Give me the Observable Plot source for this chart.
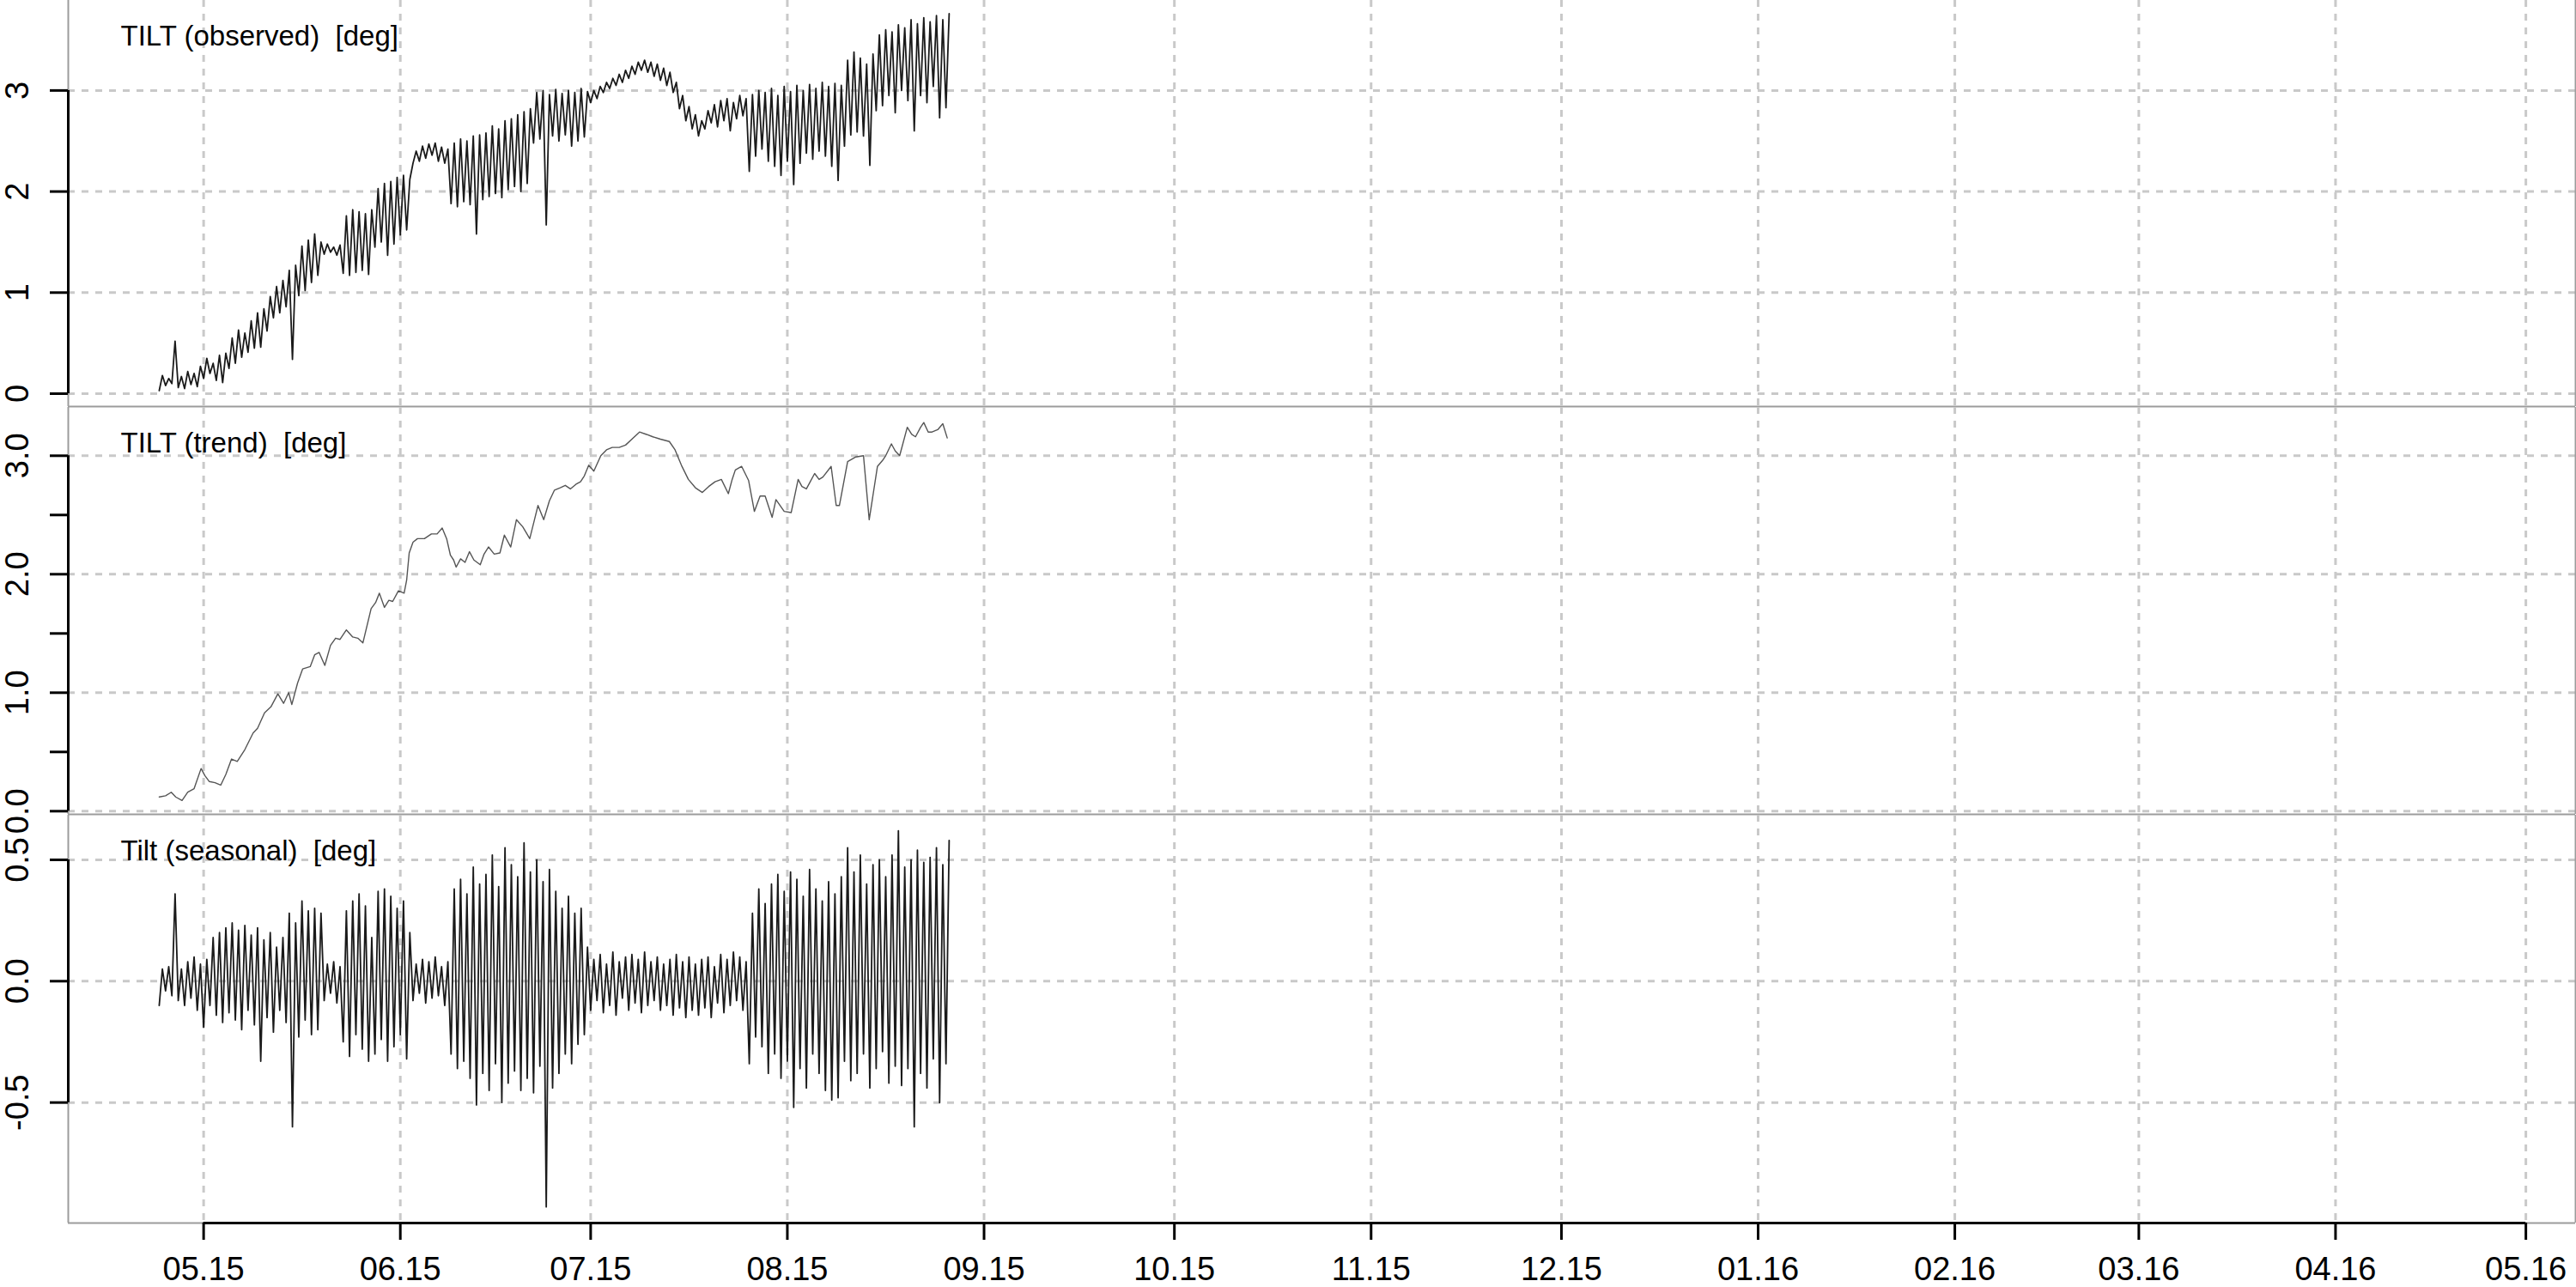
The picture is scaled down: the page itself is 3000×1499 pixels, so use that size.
<!DOCTYPE html>
<html><head><meta charset="utf-8">
<script src="https://cdn.jsdelivr.net/npm/d3@7"></script>
<script src="https://cdn.jsdelivr.net/npm/@observablehq/plot@0.6"></script>
<style>
html,body{margin:0;padding:0;background:#fff;}
#chart{width:3000px;height:1499px;position:relative;overflow:hidden;}
#chart svg{display:block;}
</style></head><body><div id="chart"></div>
<script>
// ---------- data ----------
const startDate = "2015-04-24";            // first observation (day 0)
const xStart = "2015-04-09T16:00:00Z";     // x axis extent
const xEnd = "2016-05-08T20:00:00Z";
const monthTicks = ["2015-05-01","2015-06-01","2015-07-01","2015-08-01","2015-09-01","2015-10-01","2015-11-01","2015-12-01","2016-01-01","2016-02-01","2016-03-01","2016-04-01","2016-05-01"];
const monthLabels = ["05.15","06.15","07.15","08.15","09.15","10.15","11.15","12.15","01.16","02.16","03.16","04.16","05.16"];

const titles = ["TILT (observed)  [deg]", "TILT (trend)  [deg]", "Tilt (seasonal)  [deg]"];

// daily low / high of observed tilt (day 0..124)
const obsLow = [0.03,0.08,0.10,0.06,0.05,0.09,0.07,0.15,0.20,0.13,0.11,0.25,0.30,0.36,0.41,0.45,0.46,0.62,0.75,0.80,0.86,0.34,0.97,1.02,1.10,1.17,1.38,1.40,1.37,1.19,1.17,1.20,1.22,1.18,1.45,1.50,1.37,1.48,1.57,1.62,2.28,2.30,2.33,2.36,2.30,2.28,1.88,1.85,1.90,1.87,1.58,1.92,1.95,1.98,1.94,2.02,2.05,2.00,2.08,2.48,2.52,1.67,2.55,2.50,2.56,2.45,2.50,2.54,2.88,2.92,2.98,3.02,3.05,3.08,3.12,3.16,3.20,3.18,3.14,3.10,3.05,2.98,2.82,2.70,2.62,2.55,2.62,2.68,2.64,2.70,2.60,2.72,2.75,2.20,2.35,2.42,2.30,2.25,2.16,2.30,2.07,2.28,2.38,2.32,2.40,2.35,2.25,2.11,2.45,2.56,2.59,2.55,2.26,2.80,2.85,2.95,2.78,3.00,2.90,2.60,2.95,2.88,3.04,2.73,2.83];
const obsHigh = [0.18,0.15,0.52,0.17,0.22,0.20,0.27,0.35,0.30,0.38,0.40,0.55,0.63,0.60,0.72,0.80,0.84,0.96,1.06,1.12,1.22,1.27,1.46,1.52,1.58,1.50,1.48,1.45,1.47,1.76,1.82,1.80,1.78,1.82,2.03,2.08,2.10,2.14,2.16,2.12,2.40,2.45,2.47,2.48,2.44,2.42,2.48,2.52,2.50,2.55,2.56,2.58,2.65,2.62,2.70,2.72,2.76,2.79,2.82,2.98,3.00,2.96,3.01,2.97,3.00,2.98,3.02,2.99,3.00,3.04,3.08,3.12,3.16,3.20,3.24,3.28,3.30,3.28,3.26,3.22,3.18,3.08,2.95,2.84,2.76,2.70,2.80,2.86,2.90,2.92,2.88,2.95,2.92,2.96,3.00,2.98,3.02,2.95,3.04,2.99,3.05,3.00,3.06,3.02,3.08,3.04,3.07,3.05,3.30,3.38,3.32,3.26,3.36,3.55,3.60,3.58,3.65,3.62,3.70,3.66,3.72,3.68,3.74,3.70,3.76];

// trend: day offset and value
const trendDay = [0,1.0,1.9,2.6,3.6,4.5,5.5,6.6,7.2,7.9,8.8,9.7,10.5,11.4,12.3,13.5,14.8,15.5,16.6,17.6,18.7,19.6,20.4,20.9,21.8,22.6,23.8,24.5,25.2,26.1,27.0,27.8,28.5,29.5,30.5,31.3,32.1,33.4,34.1,34.7,35.5,36.2,36.8,37.7,38.6,39.0,39.4,40.0,40.7,41.8,42.9,43.8,44.6,45.3,45.9,46.4,46.8,47.5,48.2,48.9,49.6,50.6,51.2,51.9,52.8,53.7,54.4,55.4,56.3,57.3,58.4,59.1,59.7,60.6,61.5,62.3,63.2,64.0,64.8,65.7,66.4,67.0,67.7,68.5,69.6,70.5,71.4,72.5,73.5,74.5,75.7,76.8,77.8,79.0,80.4,81.3,82.3,83.4,84.5,85.6,86.6,87.6,88.6,89.7,90.3,90.8,91.8,92.9,93.8,94.7,95.5,96.6,97.2,98.5,99.6,100.7,101.3,102.0,102.6,103.3,104.0,104.6,105.9,106.7,107.2,108.5,109.8,111.0,111.9,113.2,114.0,114.5,115.4,116.0,116.7,117.9,118.6,119.2,120.0,120.5,121.2,121.8,122.7,123.5,124.2];
const trendValue = [0.12,0.13,0.16,0.12,0.09,0.16,0.19,0.36,0.30,0.25,0.24,0.22,0.31,0.44,0.42,0.52,0.66,0.70,0.83,0.88,0.99,0.91,1.00,0.90,1.08,1.20,1.22,1.32,1.34,1.23,1.40,1.46,1.45,1.53,1.47,1.46,1.42,1.71,1.76,1.84,1.72,1.78,1.77,1.86,1.84,1.95,2.18,2.27,2.30,2.30,2.34,2.34,2.39,2.30,2.16,2.12,2.06,2.13,2.10,2.19,2.12,2.08,2.17,2.23,2.17,2.18,2.33,2.23,2.46,2.40,2.30,2.45,2.58,2.46,2.62,2.71,2.73,2.75,2.72,2.76,2.78,2.83,2.92,2.87,3.00,3.05,3.07,3.07,3.09,3.14,3.20,3.18,3.16,3.14,3.12,3.05,2.92,2.80,2.73,2.69,2.74,2.78,2.80,2.68,2.80,2.88,2.91,2.79,2.53,2.66,2.66,2.48,2.63,2.53,2.52,2.80,2.74,2.72,2.78,2.85,2.80,2.82,2.91,2.58,2.58,2.95,2.99,3.00,2.46,2.91,2.96,3.00,3.10,3.04,3.00,3.24,3.18,3.16,3.24,3.28,3.20,3.20,3.22,3.27,3.15];

// daily low / high of seasonal component (day 0..124)
const seaLow = [-0.10,-0.04,-0.06,-0.08,-0.10,-0.07,-0.12,-0.19,-0.10,-0.14,-0.17,-0.13,-0.16,-0.20,-0.12,-0.18,-0.33,-0.15,-0.21,-0.12,-0.17,-0.60,-0.23,-0.16,-0.22,-0.20,-0.08,-0.05,-0.09,-0.25,-0.31,-0.22,-0.28,-0.33,-0.30,-0.24,-0.33,-0.27,-0.22,-0.32,-0.08,-0.05,-0.09,-0.07,-0.06,-0.10,-0.30,-0.36,-0.33,-0.40,-0.51,-0.38,-0.45,-0.34,-0.50,-0.42,-0.37,-0.45,-0.40,-0.46,-0.35,-0.93,-0.44,-0.38,-0.30,-0.34,-0.26,-0.22,-0.12,-0.08,-0.13,-0.10,-0.14,-0.07,-0.12,-0.09,-0.13,-0.10,-0.08,-0.12,-0.10,-0.14,-0.11,-0.15,-0.12,-0.14,-0.11,-0.15,-0.09,-0.13,-0.10,-0.08,-0.12,-0.34,-0.23,-0.27,-0.38,-0.30,-0.40,-0.33,-0.52,-0.36,-0.44,-0.30,-0.38,-0.45,-0.49,-0.48,-0.33,-0.41,-0.38,-0.30,-0.44,-0.36,-0.29,-0.42,-0.35,-0.43,-0.36,-0.60,-0.38,-0.44,-0.32,-0.50,-0.34];
const seaHigh = [0.05,0.06,0.36,0.05,0.08,0.10,0.07,0.09,0.18,0.20,0.22,0.24,0.21,0.23,0.19,0.22,0.17,0.20,0.14,0.18,0.28,0.24,0.33,0.29,0.30,0.28,0.07,0.08,0.06,0.29,0.33,0.36,0.31,0.18,0.37,0.38,0.35,0.30,0.33,0.20,0.07,0.09,0.08,0.10,0.06,0.08,0.38,0.42,0.36,0.47,0.40,0.44,0.52,0.39,0.55,0.48,0.43,0.57,0.45,0.50,0.41,0.46,0.37,0.30,0.35,0.28,0.30,0.14,0.09,0.11,0.07,0.12,0.08,0.10,0.11,0.09,0.12,0.08,0.10,0.07,0.09,0.11,0.08,0.10,0.07,0.09,0.10,0.06,0.11,0.09,0.12,0.10,0.08,0.28,0.38,0.32,0.40,0.44,0.37,0.45,0.42,0.35,0.46,0.38,0.33,0.41,0.36,0.43,0.55,0.45,0.52,0.40,0.48,0.50,0.43,0.52,0.62,0.47,0.50,0.54,0.49,0.51,0.55,0.48,0.58];

// ---------- build ----------
const DAY = 864e5;
const t0 = Date.parse(startDate + "T00:00:00Z");
const months = monthTicks.map(s => new Date(s + "T00:00:00Z"));
const labelOf = new Map(months.map((d, i) => [+d, monthLabels[i]]));
const xDomain = [new Date(xStart), new Date(xEnd)];

function zigzag(low, high) {
  const out = [];
  low.forEach((lo, i) => {
    out.push({date: new Date(t0 + i * DAY), value: lo});
    out.push({date: new Date(t0 + (i + 0.5) * DAY), value: high[i]});
  });
  return out;
}
const observed = zigzag(obsLow, obsHigh);
const seasonal = zigzag(seaLow, seaHigh);
const trend = trendDay.map((d, i) => ({date: new Date(t0 + d * DAY), value: trendValue[i]}));

const GRID = "#c9c9c9", BOX = "#9c9c9c", FONT = "Liberation Sans, Arial, Helvetica, sans-serif";

function panel({height, marginBottom, yDomain, gridTicks, axisTicks, fmt, title, data, stroke, strokeWidth, bottomAxis}) {
  const marks = [
    Plot.ruleX(months, {stroke: GRID, strokeWidth: 3, strokeDasharray: "8,8"}),
    Plot.ruleY(gridTicks, {stroke: GRID, strokeWidth: 3, strokeDasharray: "8,8"}),
    Plot.ruleY([yDomain[0]], {stroke: BOX, strokeWidth: 2}),
    Plot.ruleX(xDomain, {stroke: BOX, strokeWidth: 2}),
    Plot.line(data, {x: "date", y: "value", stroke, strokeWidth}),
    Plot.ruleX([xDomain[0]], {y1: axisTicks[0], y2: axisTicks[axisTicks.length - 1], stroke: "black", strokeWidth: 3}),
    Plot.axisY(axisTicks, {label: null, tickSize: 21, tickPadding: 26, tickRotate: -90, fontSize: 38, strokeWidth: 3, stroke: "black", fill: "black", tickFormat: fmt}),
    Plot.text([title], {frameAnchor: "top-left", dx: 61, dy: 52, lineAnchor: "bottom", textAnchor: "start", fontSize: 33, fill: "black"})
  ];
  if (bottomAxis) {
    marks.push(Plot.ruleY([yDomain[0]], {x1: months[0], x2: months[months.length - 1], stroke: "black", strokeWidth: 3}));
    marks.push(Plot.axisX(months, {label: null, tickSize: 20, tickPadding: 20, fontSize: 38, strokeWidth: 3, stroke: "black", fill: "black", tickFormat: d => labelOf.get(+d)}));
  }
  return Plot.plot({
    width: 3000, height,
    marginLeft: 79, marginRight: 1, marginTop: 0, marginBottom,
    style: {fontFamily: FONT, background: "transparent", overflow: "visible"},
    x: {type: "utc", domain: xDomain, label: null, ...(bottomAxis ? {} : {axis: null})},
    y: {domain: yDomain, label: null},
    marks
  });
}

const root = document.getElementById("chart");
root.append(panel({
  height: 474, marginBottom: 1, yDomain: [-0.1274, 3.891],
  gridTicks: [0, 1, 2, 3], axisTicks: [0, 1, 2, 3], fmt: d => String(d),
  title: titles[0], data: observed, stroke: "#1a1a1a", strokeWidth: 1.8
}));
root.append(panel({
  height: 475, marginBottom: 1, yDomain: [-0.0268, 3.408],
  gridTicks: [0, 1, 2, 3], axisTicks: [0, 0.5, 1, 1.5, 2, 2.5, 3],
  fmt: d => Number.isInteger(d) ? d.toFixed(1) : "",
  title: titles[1], data: trend, stroke: "#555555", strokeWidth: 1.4
}));
root.append(panel({
  height: 550, marginBottom: 75, yDomain: [-0.9965, 0.6838],
  gridTicks: [-0.5, 0, 0.5], axisTicks: [-0.5, 0, 0.5], fmt: d => d.toFixed(1),
  title: titles[2], data: seasonal, stroke: "#1a1a1a", strokeWidth: 1.8, bottomAxis: true
}));
</script></body></html>
